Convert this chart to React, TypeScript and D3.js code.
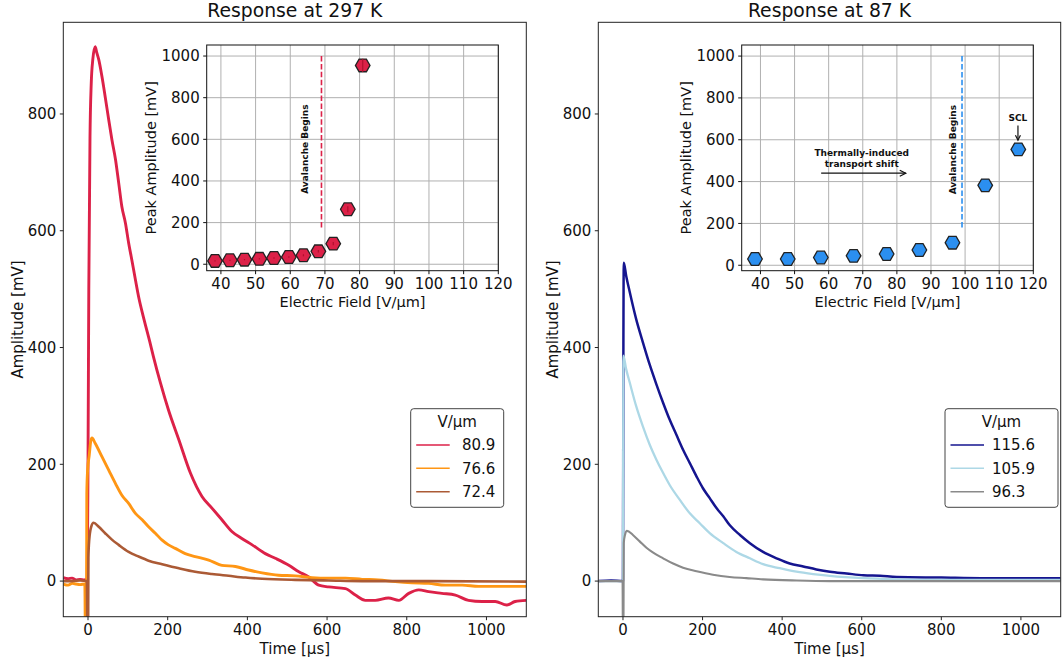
import React from "react";
import * as d3 from "d3";

const W = 1062;
const H = 664;
const FONT = "'DejaVu Sans', sans-serif";

type Pt = [number, number];

// ---- Response at 297 K : waveforms [time µs, amplitude mV]
const trace297_809: Pt[] = [
  [-62, 6], [-50, 4], [-40, 5], [-30, 2], [-20, 3], [-10, 2], [-2, 3], [0, 200], [2, 500], [5, 760], [8, 850],
  [12, 893], [18, 915], [22, 905], [27, 893], [35, 864], [43, 830], [52, 790], [60, 756], [69, 722], [77, 682],
  [85, 641], [94, 613], [102, 579], [110, 550], [119, 516], [127, 487], [141, 447], [155, 410], [164, 385],
  [182, 339], [202, 293], [228, 242], [257, 185], [286, 145], [311, 125], [336, 105], [361, 85], [386, 73],
  [412, 62], [445, 47], [470, 39], [504, 27], [529, 16], [554, 7], [579, -7], [604, -10], [646, -13], [671, -24],
  [696, -33], [721, -33], [754, -29], [780, -33], [805, -21], [830, -15], [855, -18], [888, -21], [922, -24],
  [955, -33], [989, -35], [1022, -35], [1051, -41], [1072, -35], [1100, -33],
];
const trace297_766: Pt[] = [
  [-62, -5], [-50, -7], [-40, -4], [-30, -5], [-20, -6], [-8, -5], [-6, -130], [-4, -130], [-3, 150], [-1, 190],
  [3, 215], [7, 240], [10, 245], [18, 236], [35, 213], [52, 190], [69, 167], [85, 147], [102, 133], [119, 116],
  [136, 105], [152, 93], [169, 82], [186, 70], [202, 62], [219, 56], [244, 47], [269, 42], [303, 36], [336, 27],
  [370, 25], [403, 19], [437, 14], [478, 10], [520, 9], [562, 6], [604, 5], [646, 5], [688, 3], [729, 2],
  [771, -1], [813, -3], [855, -4], [897, -7], [939, -7], [980, -9], [1022, -9], [1100, -9],
];
const trace297_724: Pt[] = [
  [-62, 0], [-40, 0], [-20, 1], [-3, 0], [-1, -130], [0, -130], [1, 40], [3, 70], [8, 93], [14, 100], [27, 93],
  [43, 82], [60, 71], [77, 62], [102, 50], [127, 42], [152, 35], [186, 29], [228, 22], [269, 16], [311, 12],
  [353, 9], [395, 6], [437, 4], [520, 2], [604, 1], [688, 0], [771, 0], [855, 0], [1100, -1],
];

// ---- Response at 87 K : waveforms
const trace87_1156: Pt[] = [
  [-62, 0], [-30, 1], [0, 0], [1, 380], [2, 545], [8, 523], [17, 495], [33, 449], [50, 409], [67, 371], [84, 337],
  [101, 305], [117, 277], [134, 251], [151, 225], [168, 202], [185, 179], [201, 159], [218, 142], [235, 125],
  [252, 111], [268, 96], [294, 79], [319, 65], [352, 50], [386, 39], [419, 30], [453, 25], [486, 20], [520, 16],
  [562, 13], [604, 10], [646, 9], [688, 7], [800, 6], [900, 5], [1000, 5], [1100, 5],
];
const trace87_1059: Pt[] = [
  [-62, 0], [0, 0], [1, 386], [8, 363], [17, 340], [33, 300], [50, 265], [67, 234], [84, 208], [101, 185],
  [117, 165], [143, 139], [168, 116], [193, 99], [218, 82], [252, 65], [285, 50], [319, 39], [352, 29],
  [394, 22], [436, 16], [478, 12], [520, 9], [604, 5], [688, 3], [800, 2], [1100, 2],
];
const trace87_963: Pt[] = [
  [-62, 0], [-1, 0], [0, -130], [1, -130], [2, 65], [5, 79], [10, 86], [25, 79], [42, 68], [59, 57], [75, 49],
  [101, 39], [126, 30], [151, 23], [185, 17], [226, 11], [268, 7], [310, 5], [352, 3], [436, 1], [520, 0], [1100, 0],
];

const labels297 = ["80.9", "76.6", "72.4"];
const colors297 = ["#dc2148", "#ff9614", "#ab5a35"];
const labels87 = ["115.6", "105.9", "96.3"];
const colors87 = ["#15158f", "#add8e6", "#8a8a8a"];

// ---- Insets : peak amplitude vs electric field
const field297 = [38.3, 42.6, 46.8, 51.1, 55.3, 59.6, 63.8, 68.1, 72.4, 76.6, 80.9];
const peak297 = [16, 19, 22, 26, 30, 35, 43, 62, 99, 264, 955];
const err297 = [3, 3, 3, 3, 4, 4, 5, 6, 8, 14, 32];
const field87 = [38.4, 48.0, 57.7, 67.3, 77.0, 86.6, 96.3, 105.9, 115.6];
const peak87 = [30, 30, 37, 45, 54, 73, 108, 382, 554];

const timeTicks = [0, 200, 400, 600, 800, 1000];
const ampTicks = [0, 200, 400, 600, 800];
const fieldTicks = [40, 50, 60, 70, 80, 90, 100, 110, 120];
const peakTicks = [0, 200, 400, 600, 800, 1000];

const TOP = 22.3;
const BOTTOM = 616.7;

function Panel(props: {
  id: string;
  left: number;
  width: number;
  title: string;
  traces: Pt[][];
  colors: string[];
  widths: number[];
  labels: string[];
  legend: { x0: number; x1: number; textX: number };
}) {
  const { id, left, width, title, traces, colors, widths, labels, legend } = props;
  const x = d3.scaleLinear().domain([-62, 1100]).range([left, left + width]);
  const y = d3.scaleLinear().domain([-61, 957]).range([BOTTOM, TOP]);
  const line = d3
    .line<Pt>()
    .x((d) => x(d[0]))
    .y((d) => y(d[1]))
    .curve(d3.curveMonotoneX);
  const cx = left + width / 2;
  const ly0 = 408.7;
  const entryY = [445, 468.3, 491.7];
  return (
    <g>
      <defs>
        <clipPath id={id}>
          <rect x={left} y={TOP} width={width} height={BOTTOM - TOP} />
        </clipPath>
      </defs>
      <g clipPath={`url(#${id})`}>
        {traces.map((t, i) => (
          <path key={i} d={line(t) || ""} fill="none" stroke={colors[i]} strokeWidth={widths[i]} strokeLinejoin="round" />
        ))}
      </g>
      <rect x={left} y={TOP} width={width} height={BOTTOM - TOP} fill="none" stroke="#222" strokeWidth={1} />
      {timeTicks.map((t) => (
        <g key={t}>
          <line x1={x(t)} x2={x(t)} y1={BOTTOM} y2={BOTTOM + 3.5} stroke="#222" />
          <text x={x(t)} y={BOTTOM + 7} dy="0.76em" textAnchor="middle" fontSize={15} fontFamily={FONT} fill="#111">
            {t}
          </text>
        </g>
      ))}
      {ampTicks.map((v) => (
        <g key={v}>
          <line x1={left - 3.5} x2={left} y1={y(v)} y2={y(v)} stroke="#222" />
          <text x={left - 7} y={y(v)} dy="0.36em" textAnchor="end" fontSize={15} fontFamily={FONT} fill="#111">
            {v}
          </text>
        </g>
      ))}
      <text x={cx} y={16.5} textAnchor="middle" fontSize={18.8} fontFamily={FONT} fill="#111">
        {title}
      </text>
      <text x={cx} y={654} textAnchor="middle" fontSize={15} fontFamily={FONT} fill="#111">
        Time [µs]
      </text>
      <text
        transform={`translate(${left - 46},${(TOP + BOTTOM) / 2}) rotate(-90)`}
        textAnchor="middle"
        dy="0.36em"
        fontSize={15}
        fontFamily={FONT}
        fill="#111"
      >
        Amplitude [mV]
      </text>
      {/* legend */}
      <rect x={legend.x0} y={ly0} width={legend.x1 - legend.x0} height={98.6} rx={3} fill="#fff" fillOpacity={0.8} stroke="#444" strokeWidth={1} />
      <text x={(legend.x0 + legend.x1) / 2} y={422} dy="0.36em" textAnchor="middle" fontSize={15} fontFamily={FONT} fill="#111">
        V/µm
      </text>
      {labels.map((lab, i) => (
        <g key={lab}>
          <line x1={legend.x0 + 5.5} x2={legend.x0 + 39} y1={entryY[i]} y2={entryY[i]} stroke={colors[i]} strokeWidth={1.5} />
          <text x={legend.textX} y={entryY[i]} dy="0.36em" fontSize={15} fontFamily={FONT} fill="#111">
            {lab}
          </text>
        </g>
      ))}
    </g>
  );
}

function hexPath(r: number) {
  const pts = d3.range(6).map((k) => {
    const a = (k * Math.PI) / 3;
    return [r * Math.cos(a), r * Math.sin(a)];
  });
  return "M" + pts.map((p) => p.join(",")).join("L") + "Z";
}

function Inset(props: {
  x0: number;
  x1: number;
  xDom: [number, number];
  yDom: [number, number];
  field: number[];
  peak: number[];
  err?: number[];
  fill: string;
  errColor: string;
  lineX: number;
  lineColor: string;
  lineFrom: number;
  textX: number;
  children?: (x: d3.ScaleLinear<number, number>, y: d3.ScaleLinear<number, number>) => React.ReactNode;
}) {
  const { x0, x1, xDom, yDom, field, peak, err, fill, errColor, lineX, lineColor, lineFrom, textX, children } = props;
  const y0 = 45;
  const y1 = 270.7;
  const x = d3.scaleLinear().domain(xDom).range([x0, x1]);
  const y = d3.scaleLinear().domain(yDom).range([y1, y0]);
  const hex = hexPath(7.3);
  return (
    <g>
      <rect x={x0} y={y0} width={x1 - x0} height={y1 - y0} fill="#fff" />
      {fieldTicks.map((t) => (
        <line key={"gx" + t} x1={x(t)} x2={x(t)} y1={y0} y2={y1} stroke="#b0b0b0" strokeWidth={1} />
      ))}
      {peakTicks.map((t) => (
        <line key={"gy" + t} x1={x0} x2={x1} y1={y(t)} y2={y(t)} stroke="#b0b0b0" strokeWidth={1} />
      ))}
      <line x1={x(lineX)} x2={x(lineX)} y1={y(1000)} y2={y(lineFrom)} stroke={lineColor} strokeWidth={1.6} strokeDasharray="5.5,2.4" />
      <text
        transform={`translate(${x(textX)},${y(553)}) rotate(-90)`}
        textAnchor="middle"
        dy="0.36em"
        fontSize={9}
        fontWeight="bold"
        fontFamily={FONT}
        fill="#111"
      >
        Avalanche Begins
      </text>
      {field.map((f, i) => (
        <g key={i} transform={`translate(${x(f)},${y(peak[i])})`}>
          <path d={hex} fill={fill} stroke="#222" strokeWidth={1.3} />
          {err ? <line x1={0} x2={0} y1={y(peak[i] - err[i]) - y(peak[i])} y2={y(peak[i] + err[i]) - y(peak[i])} stroke={errColor} strokeWidth={1.2} /> : null}
        </g>
      ))}
      {children ? children(x, y) : null}
      <rect x={x0} y={y0} width={x1 - x0} height={y1 - y0} fill="none" stroke="#111" strokeWidth={1} />
      {fieldTicks.map((t) => (
        <g key={"tx" + t}>
          <line x1={x(t)} x2={x(t)} y1={y1} y2={y1 + 3.5} stroke="#111" />
          <text x={x(t)} y={y1 + 7} dy="0.76em" textAnchor="middle" fontSize={15} fontFamily={FONT} fill="#111">
            {t}
          </text>
        </g>
      ))}
      {peakTicks.map((t) => (
        <g key={"ty" + t}>
          <line x1={x0 - 3.5} x2={x0} y1={y(t)} y2={y(t)} stroke="#111" />
          <text x={x0 - 7} y={y(t)} dy="0.36em" textAnchor="end" fontSize={15} fontFamily={FONT} fill="#111">
            {t}
          </text>
        </g>
      ))}
      <text x={(x0 + x1) / 2} y={307} textAnchor="middle" fontSize={14.5} fontFamily={FONT} fill="#111">
        Electric Field [V/µm]
      </text>
      <text
        transform={`translate(${x0 - 56},${(y0 + y1) / 2}) rotate(-90)`}
        textAnchor="middle"
        dy="0.36em"
        fontSize={14.5}
        fontFamily={FONT}
        fill="#111"
      >
        Peak Amplitude [mV]
      </text>
    </g>
  );
}

function arrowHead(xTip: number, yTip: number, dx: number, dy: number, size: number) {
  const len = Math.hypot(dx, dy);
  const ux = dx / len;
  const uy = dy / len;
  const px = -uy;
  const py = ux;
  const bx = xTip - ux * size;
  const by = yTip - uy * size;
  return `M${bx + px * size * 0.5},${by + py * size * 0.5}L${xTip},${yTip}L${bx - px * size * 0.5},${by - py * size * 0.5}`;
}

export default function App() {
  return (
    <div style={{ position: "absolute", left: 0, top: 0, width: W, height: H, background: "#fff" }}>
      <svg width={W} height={H} viewBox={`0 0 ${W} ${H}`} style={{ display: "block" }}>
        <rect width={W} height={H} fill="#fff" />
        <Panel
          id="clipL"
          left={63.3}
          width={463}
          title="Response at 297 K"
          traces={[trace297_809, trace297_766, trace297_724]}
          colors={colors297}
          widths={[2.9, 2.9, 2.6]}
          labels={labels297}
          legend={{ x0: 410.7, x1: 503.7, textX: 462 }}
        />
        <Panel
          id="clipR"
          left={598.3}
          width={462.4}
          title="Response at 87 K"
          traces={[trace87_1156, trace87_1059, trace87_963]}
          colors={colors87}
          widths={[2.5, 2.3, 2.1]}
          labels={labels87}
          legend={{ x0: 945, x1: 1058, textX: 992 }}
        />
        <Inset
          x0={206.7}
          x1={498.3}
          xDom={[35.9, 120]}
          yDom={[-31, 1053]}
          field={field297}
          peak={peak297}
          err={err297}
          fill="#dc2148"
          errColor="#b0102e"
          lineX={69}
          lineColor="#dc2148"
          lineFrom={176}
          textX={64.1}
        />
        <Inset
          x0={741.7}
          x1={1033.3}
          xDom={[34.5, 120]}
          yDom={[-26, 1053]}
          field={field87}
          peak={peak87}
          fill="#2b8ff0"
          errColor="#1e6fc0"
          lineX={99.1}
          lineColor="#2b8ff0"
          lineFrom={177}
          textX={96.3}
        >
          {(x, y) => (
            <g>
              <text x={x(69.7)} y={y(536)} dy="0.36em" textAnchor="middle" fontSize={9} fontWeight="bold" fontFamily={FONT} fill="#111">
                Thermally-induced
              </text>
              <text x={x(69.7)} y={y(485)} dy="0.36em" textAnchor="middle" fontSize={9} fontWeight="bold" fontFamily={FONT} fill="#111">
                transport shift
              </text>
              <line x1={x(57.8)} x2={x(82.6)} y1={y(440)} y2={y(440)} stroke="#111" strokeWidth={1.2} />
              <path d={arrowHead(x(82.6), y(440), 1, 0, 6)} fill="none" stroke="#111" strokeWidth={1.2} />
              <text x={x(115.5)} y={y(706)} dy="0.36em" textAnchor="middle" fontSize={9} fontWeight="bold" fontFamily={FONT} fill="#111">
                SCL
              </text>
              <line x1={x(115.5)} x2={x(115.5)} y1={y(668)} y2={y(598)} stroke="#111" strokeWidth={1.2} />
              <path d={arrowHead(x(115.5), y(598), 0, 1, 5)} fill="none" stroke="#111" strokeWidth={1.2} />
            </g>
          )}
        </Inset>
      </svg>
    </div>
  );
}
